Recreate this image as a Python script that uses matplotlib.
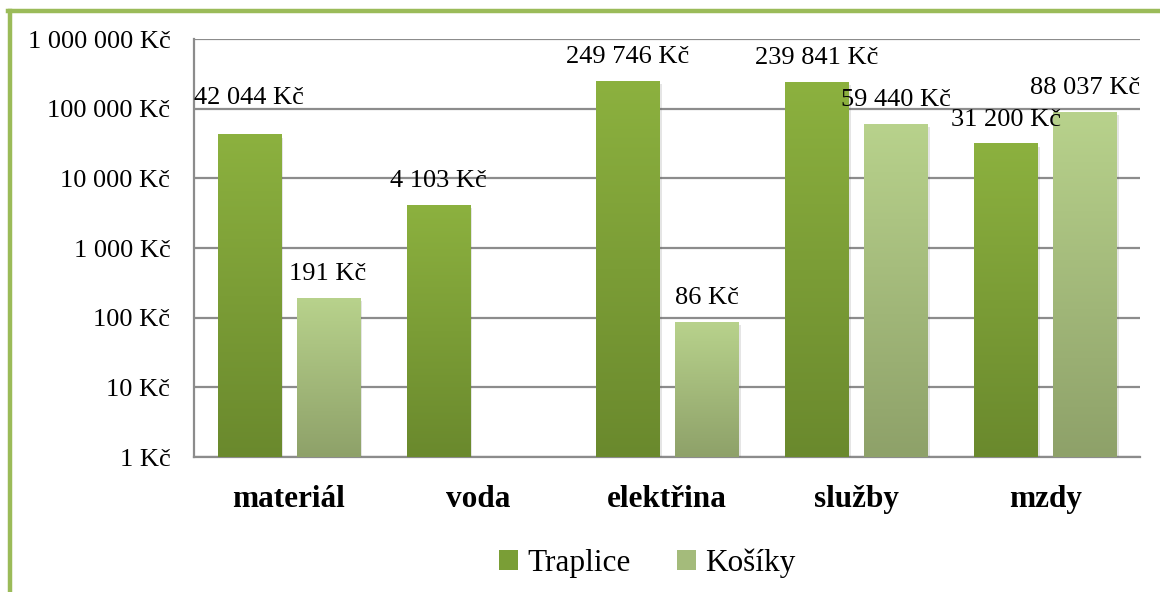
import matplotlib
matplotlib.use("Agg")
import matplotlib.pyplot as plt
import matplotlib.patheffects as pe
from matplotlib.colors import LinearSegmentedColormap
from matplotlib.lines import Line2D
from matplotlib.patches import Patch
from matplotlib.ticker import FuncFormatter, FixedLocator
import numpy as np

categories = ["materiál", "voda", "elektřina", "služby", "mzdy"]
series_names = ["Traplice", "Košíky"]
traplice = [42044, 4103, 249746, 239841, 31200]
kosiky = [191, None, 86, 59440, 88037]
y_ticks = [1, 10, 100, 1000, 10000, 100000, 1000000]

plt.rcParams["font.family"] = ["Liberation Serif", "DejaVu Serif"]

fig = plt.figure(figsize=(11.6, 5.92), dpi=100)
ax = fig.add_axes([0.1672, 0.228, 0.8155, 0.706])

cmaps = [
    LinearSegmentedColormap.from_list("tr", ["#6a892d", "#8cb13f"]),
    LinearSegmentedColormap.from_list("ko", ["#8ea169", "#b8d28c"]),
]
legend_cols = ["#7a9e36", "#a4bb7b"]
grad = np.linspace(0, 1, 256).reshape(-1, 1)

ax.set_yscale("log")
ax.set_ylim(1, 1e6)
ax.set_xlim(-0.5, len(categories) - 0.5)

width = 0.333
offsets = [-0.209, 0.209]
# per-label nudge in points (Excel moved the first one up)
label_dy = {(0, 0): 9}

x = np.arange(len(categories))
for s, vals in enumerate([traplice, kosiky]):
    for i, v in enumerate(vals):
        if v is None:
            continue
        xc = x[i] + offsets[s]
        bar = ax.bar(xc, v, width=width, bottom=1, color=cmaps[s](0.5),
                     zorder=3, linewidth=0)[0]
        bar.set_path_effects([pe.SimplePatchShadow(offset=(2, -2), alpha=0.15,
                                                   shadow_rgbFace="#555555"),
                              pe.Normal()])
        # gradient fill in axes coordinates
        tr = ax.transData + ax.transAxes.inverted()
        (ax0, ay0), (ax1, ay1) = tr.transform([(xc - width / 2, 1), (xc + width / 2, v)])
        ax.imshow(grad, cmap=cmaps[s], extent=(ax0, ax1, ay0, ay1),
                  transform=ax.transAxes, aspect="auto", origin="lower",
                  zorder=4, interpolation="bilinear")
        label = f"{v:,}".replace(",", " ") + " Kč"
        ax.annotate(label, (xc, v), xytext=(0, 9.5 + label_dy.get((s, i), 0)),
                    textcoords="offset points", ha="center", va="bottom",
                    fontsize=19, zorder=6)

ax.set_yscale("log")
ax.set_ylim(1, 1e6)
ax.set_xlim(-0.5, len(categories) - 0.5)

ax.yaxis.set_major_locator(FixedLocator(y_ticks))
ax.yaxis.set_minor_locator(FixedLocator([]))
ax.yaxis.set_major_formatter(FuncFormatter(lambda v, p: f"{int(round(v)):,}".replace(",", " ") + " Kč"))
ax.tick_params(axis="y", length=0, pad=17, labelsize=19)
ax.set_xticks(x)
ax.set_xticklabels(categories, fontsize=22.5, fontweight="bold")
ax.tick_params(axis="x", length=0, pad=20)

ax.grid(axis="y", color="#8c8c8c", linewidth=1.6, zorder=1)
ax.set_axisbelow(True)
for sp in ["top", "right"]:
    ax.spines[sp].set_visible(False)
for sp in ["left", "bottom"]:
    ax.spines[sp].set_color("#8c8c8c")
    ax.spines[sp].set_linewidth(1.6)

handles = [Patch(facecolor=legend_cols[0], label=series_names[0]),
           Patch(facecolor=legend_cols[1], label=series_names[1])]
fig.legend(handles=handles, loc="center", bbox_to_anchor=(0.558, 0.049), ncol=2,
           frameon=False, fontsize=22.5, handlelength=0.6, handleheight=0.6,
           handletextpad=0.3, columnspacing=1.5)

# green outer frame (left and top only visible)
fig.add_artist(Line2D([0.0086, 0.0086], [0, 0.982], transform=fig.transFigure,
                      color="#9bbb59", linewidth=3.2))
fig.add_artist(Line2D([0.0073, 1.0], [0.981, 0.981], transform=fig.transFigure,
                      color="#9bbb59", linewidth=3.2))

fig.savefig("out.png", dpi=100)
